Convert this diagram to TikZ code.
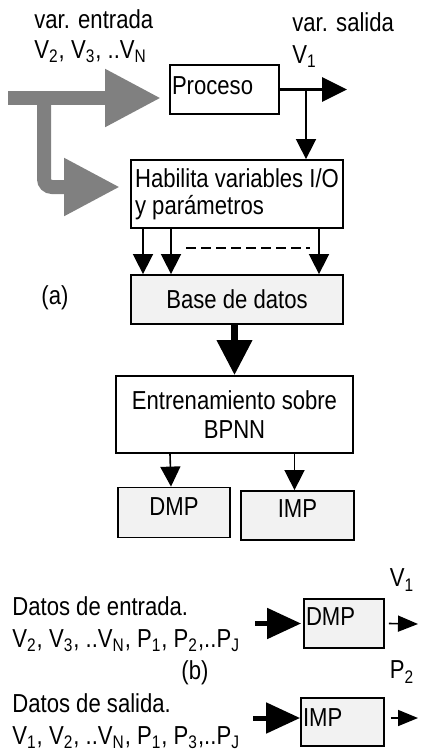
\documentclass[tikz,border=0pt]{standalone}
\usepackage{fontspec}
\setmainfont{Liberation Sans}[FakeStretch=0.85]
\usetikzlibrary{arrows.meta}

\begin{document}
\begin{tikzpicture}[x=0.5pt,y=-0.5pt,
    font=\fontsize{13}{15}\selectfont,
    box/.style={draw,line width=0.9pt,inner xsep=1pt,inner ysep=0pt},
    shaded/.style={box,fill=black!5},
    grayarrow/.style={draw=gray,line width=7pt,-{Triangle[length=28pt,width=27pt]}},
    bigarrow/.style={line width=3.5pt,-{Triangle[length=17.5pt,width=17pt]}},
    outarrow/.style={line width=1.5pt,-{Triangle[length=12.5pt,width=12pt]}},
    midarrow/.style={line width=2.5pt,-{Triangle[length=17pt,width=15pt]}},
    thinarrow/.style={line width=0.8pt,-{Triangle[length=10pt,width=10pt]}},
    smallarrow/.style={line width=0.8pt,-{Triangle[length=10pt,width=8pt]}}]
    \useasboundingbox (0,0) rectangle (422,751);

    % (a) blocks
    \node[box, minimum width=54.5pt, minimum height=24.5pt, text width=52.5pt, align=left,
          text height=9.3pt, text depth=4.5pt] (proc) at (224.5,89.5) {Proceso};
    \node[box, minimum width=106pt, minimum height=34pt, align=left] (hab) at (237,194)
        {Habilita variables I/O\\[-1.5pt]y parámetros};
    \node[shaded, minimum width=106pt, minimum height=24.5pt] (base) at (237,299.5) {Base de datos};
    \node[box, minimum width=118.5pt, minimum height=38.5pt, align=center] (ent) at (234.5,414.5)
        {Entrenamiento sobre\\[-0.5pt]BPNN};
    \node[shaded, minimum width=56pt, minimum height=25pt, text height=9.3pt, text depth=6.5pt] (dmp) at (174,512.5) {DMP};
    \node[shaded, minimum width=56.5pt, minimum height=24.5pt, text height=9.3pt, text depth=7pt] (imp) at (297.5,515.5) {IMP};

    % labels (a)
    \node[anchor=west, align=left, inner sep=0pt] (vin) at (34,36)
        {var. entrada\\V\textsubscript{2}, V\textsubscript{3}, ..V\textsubscript{N}};
    \node[anchor=west, align=left, inner sep=0pt] (vout) at (292,40)
        {var. salida\\[1pt]V\textsubscript{1}};
    \node (la) at (55,298) {(a)};

    % gray input arrows
    \coordinate (in) at (8,98);
    \coordinate (split) at (44,98);
    \draw[grayarrow, shorten >=4pt] (in) -- (in -| proc.west);
    \draw[grayarrow, rounded corners=4pt, shorten >=5pt] (split) |- ([yshift=3.5pt]hab.west);

    % process output
    \coordinate (tap) at (306,89.5);
    \coordinate (vend) at (347,89.5);
    \draw[outarrow] (proc.east) -- (vend);
    \draw[thinarrow] (tap) -- (tap |- hab.north);

    % variables to data base
    \foreach \dx in {-47,-33,41}
        \draw[thinarrow] ([xshift=\dx pt]hab.south) -- ([xshift=\dx pt]base.north);
    \draw[line width=0.8pt, dash pattern=on 5pt off 2.5pt]
        ([xshift=-25.5pt,yshift=-9.5pt]hab.south) -- ([xshift=36.5pt,yshift=-9.5pt]hab.south);

    \draw[bigarrow] (ent.north |- base.south) -- (ent.north);
    \draw[thinarrow] ([xshift=-2pt]dmp.north |- ent.south) -- ([xshift=-1.5pt]dmp.north);
    \draw[thinarrow] ([xshift=-1.5pt]imp.north |- ent.south) -- ([xshift=-1.5pt]imp.north);

    % (b) blocks
    \node[shaded, minimum width=40pt, minimum height=24.5pt, text width=38pt, align=left,
          text height=9.3pt, text depth=7.5pt] (dmp2) at (344,623.5) {DMP};
    \node[shaded, minimum width=41.5pt, minimum height=24pt, text width=39.5pt, align=left,
          text height=9.3pt, text depth=4.5pt] (imp2) at (342.5,722) {IMP};

    \node[anchor=west, align=left, inner sep=0pt] (din) at (12,624)
        {Datos de entrada.\\[1pt]V\textsubscript{2}, V\textsubscript{3}, ..V\textsubscript{N}, P\textsubscript{1}, P\textsubscript{2},..P\textsubscript{J}};
    \node[anchor=west, align=left, inner sep=0pt] (dout) at (12,721)
        {Datos de salida.\\[1pt]V\textsubscript{1}, V\textsubscript{2}, ..V\textsubscript{N}, P\textsubscript{1}, P\textsubscript{3},..P\textsubscript{J}};
    \node (lb) at (195,673) {(b)};
    \node (v1) at (402,580) {V\textsubscript{1}};
    \node (p2) at (402,672) {P\textsubscript{2}};

    \coordinate (dmpin) at (255,623.5);
    \coordinate (dmpout) at (418,624);
    \coordinate (impin) at (253,718);
    \coordinate (impout) at (418,718);
    \draw[midarrow, shorten >=1pt] (dmpin) -- (dmp2.west);
    \draw[smallarrow] ([xshift=2pt]dmp2.east) -- (dmpout);
    \draw[midarrow] (impin) -- (impin -| imp2.west);
    \draw[smallarrow] ([xshift=3pt]imp2.east |- impout) -- (impout);
\end{tikzpicture}
\end{document}
